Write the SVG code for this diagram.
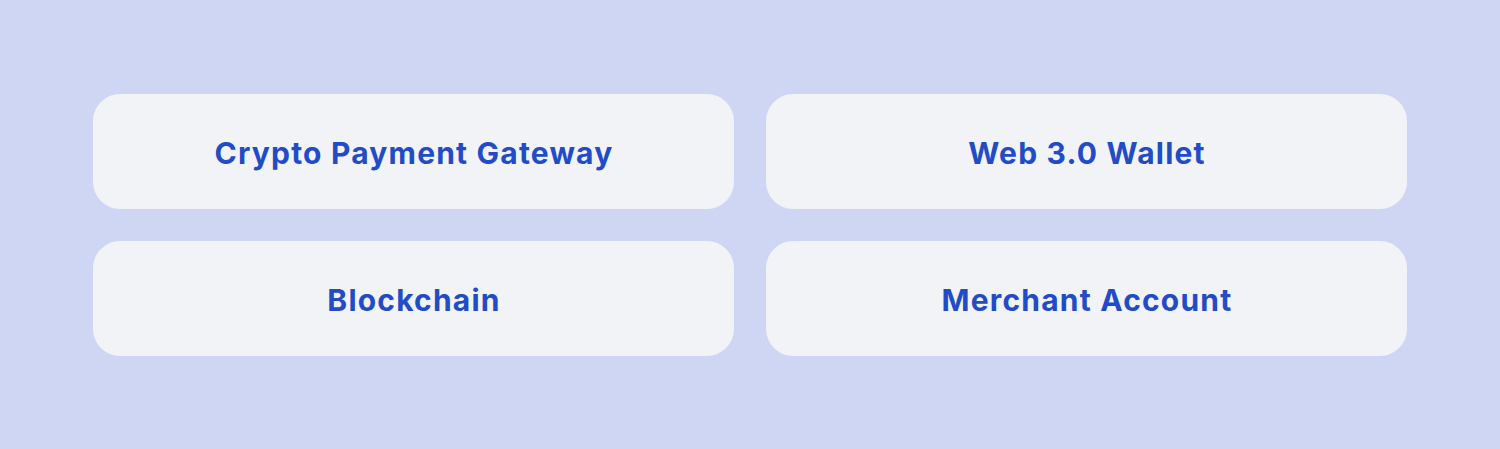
<svg xmlns="http://www.w3.org/2000/svg" width="1500" height="449" viewBox="0 0 1500 449">
<style>
.box{fill:#f2f3f6}
.lbl{font-family:Inter,"Noto Sans",sans-serif;font-weight:700;font-size:30px;letter-spacing:1.2px;fill:#224bc8;text-anchor:middle}
</style>
<rect x="0" y="0" width="1500" height="449" fill="#cfd6f3"/>
<g id="node-crypto-payment-gateway">
<rect class="box" x="93" y="94" width="641" height="115" rx="27"/>
<text class="lbl" x="414" y="164">Crypto Payment Gateway</text>
</g>
<g id="node-web3-wallet">
<rect class="box" x="766" y="94" width="641" height="115" rx="27"/>
<text class="lbl" x="1087" y="164">Web 3.0 Wallet</text>
</g>
<g id="node-blockchain">
<rect class="box" x="93" y="241" width="641" height="115" rx="27"/>
<text class="lbl" x="414" y="311">Blockchain</text>
</g>
<g id="node-merchant-account">
<rect class="box" x="766" y="241" width="641" height="115" rx="27"/>
<text class="lbl" x="1087" y="311">Merchant Account</text>
</g>
<g id="connectors"></g>
</svg>
